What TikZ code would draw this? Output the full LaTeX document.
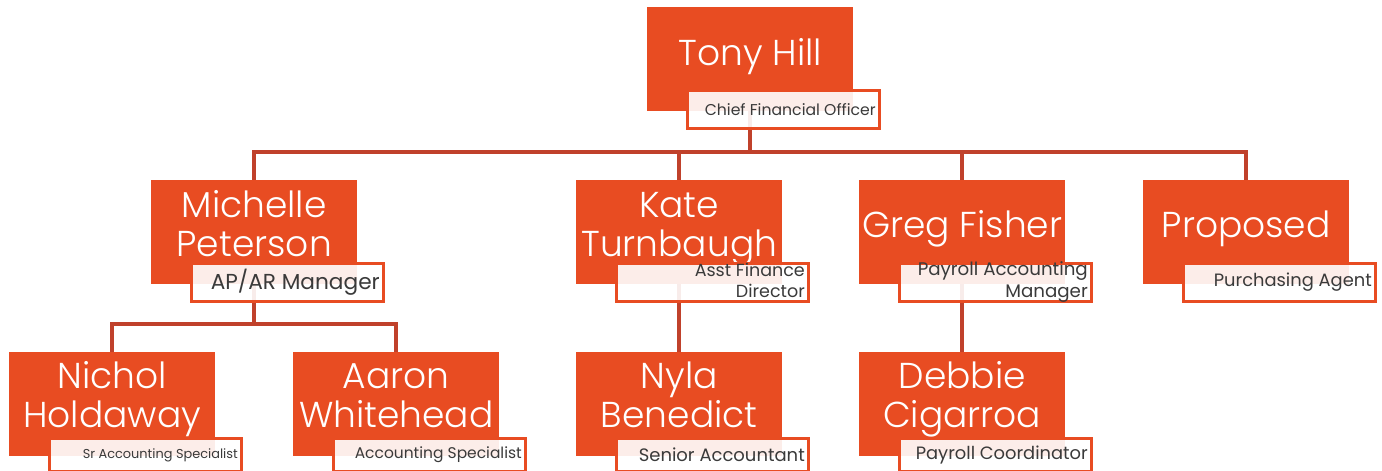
\documentclass[tikz,border=0pt]{standalone}
\usepackage{fontspec}
\setmainfont{Poppins Light}
\newfontfamily\titlefont{Poppins}
\usepackage{graphicx}
\usetikzlibrary{calc}
\pgfdeclarelayer{background}
\pgfsetlayers{background,main}

\definecolor{boxorange}{HTML}{E84C22}
\definecolor{linkred}{HTML}{C0412B}
\definecolor{titlegray}{HTML}{3A3A3A}

\tikzset{
  namebox/.style={fill=boxorange, draw=none, minimum width=206pt,
    minimum height=104pt, anchor=north west, inner sep=0pt},
  nametext/.style={text=white, font=\fontsize{36}{39}\selectfont,
    align=center, inner sep=0pt, anchor=base},
  titlebox/.style={fill=white, fill opacity=0.9, draw=boxorange,
    draw opacity=1, line width=3pt, minimum width=192pt,
    anchor=north west, inner sep=0pt},
  titletext/.style={text=titlegray, font=\titlefont, anchor=east, inner sep=0pt},
  conn/.style={draw=linkred, line width=4pt, line join=miter}
}

% #1 id, #2 x, #3 y, #4 name, #5 baseline of the last name line,
% #6 title, #7 title offset, #8 title height
\newcommand{\member}[8]{%
  \node[namebox] (#1) at (#2,#3) {};
  \node[nametext] (#1-name) at ($(#1.north)+(0,#5)$) {#4};
  \node[titlebox, minimum height=#8pt] (#1-tb) at ($(#1.north west)+(39,#7)$) {};
  \node[titletext] (#1-title) at ($(#1-tb.east)+(-5,0)$) {#6};
}
\newcommand{\fitline}[2]{\resizebox{#1pt}{!}{#2}}
\newcommand{\fittwo}[3]{\resizebox{#1pt}{!}{\begin{tabular}{@{}r@{}}#2\\#3\end{tabular}}}

\begin{document}
\begin{tikzpicture}[x=1pt,y=-1pt]
  \useasboundingbox (0,0) rectangle (1382,471);

  % top level
  \member{tony}{647}{7}{Tony Hill}{58}{\fitline{171}{Chief Financial Officer}}{82}{38}

  % second level
  \member{michelle}{151}{180}{Michelle\\Peterson}{76}{\fitline{169}{AP/AR Manager}}{82}{38}
  \member{kate}{576}{180}{Kate\\Turnbaugh}{76}{\fittwo{110}{Asst Finance}{Director}}{82}{38}
  \member{greg}{859}{180}{Greg Fisher}{57}{\fittwo{170}{Payroll Accounting}{Manager}}{82}{38}
  \member{proposed}{1143}{180}{Proposed}{57}{\fitline{158}{Purchasing Agent}}{82}{38}

  % third level
  \member{nichol}{9}{352}{Nichol\\Holdaway}{75}{\fitline{155}{Sr Accounting Specialist}}{85}{33}
  \member{aaron}{293}{352}{Aaron\\Whitehead}{75}{\fitline{167}{Accounting Specialist}}{85}{33}
  \member{nyla}{576}{352}{Nyla\\Benedict}{75}{\fitline{166}{Senior Accountant}}{85}{33}
  \member{debbie}{859}{352}{Debbie\\Cigarroa}{75}{\fitline{172}{Payroll Coordinator}}{85}{33}

  % reporting lines
  \coordinate (busA) at (0,152);
  \coordinate (busB) at (0,324);
  \begin{pgfonlayer}{background}
    \draw[conn] (tony.south) -- (tony.south |- busA);
    \draw[conn] (michelle.north) -- (michelle.north |- busA)
                -- (proposed.north |- busA) -- (proposed.north);
    \draw[conn] (kate.north) -- (kate.north |- busA);
    \draw[conn] (greg.north) -- (greg.north |- busA);
    \draw[conn] (michelle.south) -- (michelle.south |- busB);
    \draw[conn] (nichol.north) -- (nichol.north |- busB)
                -- (aaron.north |- busB) -- (aaron.north);
    \draw[conn] (kate.south) -- (nyla.north);
    \draw[conn] (greg.south) -- (debbie.north);
  \end{pgfonlayer}
\end{tikzpicture}
\end{document}
